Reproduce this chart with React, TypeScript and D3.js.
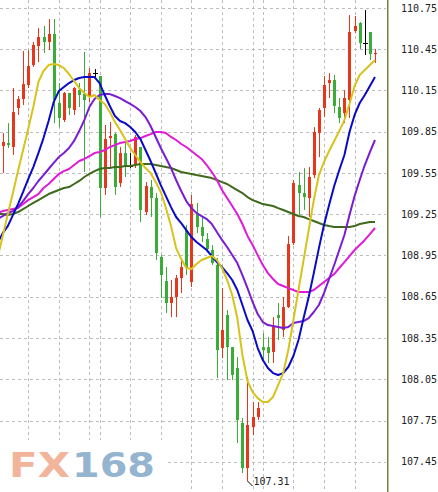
import React from 'react';
import * as d3 from 'd3';

const W = 438;
const H = 492;

const opens = [
  109.746, 109.768, 109.739, 110.023, 110.088, 110.190, 110.335, 110.473, 110.539, 110.503,
  110.561, 110.059, 109.935, 110.132, 110.008, 110.153, 110.124, 110.103, 110.277, 110.255,
  109.441, 109.804, 109.833, 109.477, 109.695, 109.601, 109.608, 109.739, 109.266, 109.448,
  109.368, 108.939, 108.764, 108.604, 108.648, 108.786, 109.135, 108.757, 109.259, 109.157,
  109.070, 108.990, 108.881, 108.277, 108.517, 108.284, 108.132, 107.732, 107.404, 107.702,
  107.775, 108.284, 108.284, 108.248, 108.517, 108.408, 108.575, 109.041, 109.463, 109.404,
  109.368, 109.535, 109.841, 110.023, 110.204, 110.226, 110.030, 109.986, 110.081, 110.583,
  110.641, 110.495, 110.575, 110.415,
];
const highs = [
  109.841, 109.913, 110.168, 110.110, 110.437, 110.444, 110.503, 110.604, 110.619, 110.670,
  110.670, 110.204, 110.139, 110.132, 110.175, 110.204, 110.430, 110.313, 110.306, 110.255,
  109.899, 109.921, 109.841, 109.739, 109.768, 109.695, 109.826, 109.739, 109.484, 109.499,
  109.404, 108.953, 108.866, 108.772, 108.808, 108.932, 109.172, 109.390, 109.332, 109.230,
  109.113, 109.026, 108.932, 108.713, 108.553, 108.284, 108.212, 107.768, 108.066, 107.884,
  107.884, 108.386, 108.357, 108.502, 108.604, 108.648, 109.092, 109.499, 109.557, 109.586,
  109.593, 109.884, 110.023, 110.255, 110.277, 110.263, 110.095, 110.153, 110.699, 110.692,
  110.648, 110.735, 110.575, 110.452,
];
const lows = [
  109.550, 109.732, 109.681, 109.972, 110.044, 110.168, 110.321, 110.357, 110.423, 110.444,
  109.913, 109.884, 109.921, 109.972, 109.972, 110.030, 109.557, 110.066, 110.241, 109.230,
  109.390, 109.593, 109.390, 109.448, 109.521, 109.586, 109.586, 109.193, 109.244, 109.230,
  108.917, 108.641, 108.532, 108.502, 108.502, 108.677, 108.808, 108.721, 109.113, 109.048,
  108.990, 108.881, 108.059, 108.204, 108.044, 108.044, 107.586, 107.368, 107.310, 107.644,
  107.753, 108.190, 108.168, 108.168, 108.335, 108.357, 108.568, 109.026, 109.244, 109.281,
  109.230, 109.513, 109.666, 109.957, 110.095, 109.986, 109.913, 109.913, 109.950, 110.568,
  110.452, 110.408, 110.372, 110.350,
];
const closes = [
  109.775, 109.753, 109.993, 110.088, 110.197, 110.328, 110.481, 110.539, 110.503, 110.561,
  110.081, 109.950, 110.132, 110.023, 110.168, 110.117, 110.081, 110.277, 110.277, 109.441,
  109.797, 109.819, 109.448, 109.695, 109.608, 109.601, 109.812, 109.281, 109.455, 109.368,
  108.968, 108.808, 108.604, 108.648, 108.786, 108.866, 108.859, 109.324, 109.157, 109.092,
  108.997, 108.895, 108.262, 108.408, 108.284, 108.081, 107.753, 107.404, 107.717, 107.775,
  107.841, 108.262, 108.241, 108.430, 108.495, 108.575, 109.033, 109.477, 109.404, 109.375,
  109.521, 109.848, 110.008, 110.190, 110.226, 110.037, 109.950, 110.095, 110.575, 110.619,
  110.495, 110.495, 110.415, 110.423,
];

// Moving averages: first value belongs to the bar just left of the visible window (bar -1)
const maYellow = [
  108.932,
  109.092, 109.252, 109.404, 109.564, 109.717, 109.870, 110.030, 110.212, 110.292, 110.335,
  110.343, 110.335, 110.313, 110.270, 110.219, 110.168, 110.132, 110.103, 110.117, 110.081,
  110.052, 109.994, 109.921, 109.863, 109.797, 109.732, 109.681, 109.630, 109.586, 109.550,
  109.484, 109.412, 109.295, 109.164, 109.004, 108.924, 108.859, 108.852, 108.888, 108.917,
  108.932, 108.946, 108.917, 108.859, 108.772, 108.663, 108.495, 108.226, 108.037, 107.957,
  107.913, 107.884, 107.884, 107.921, 108.008, 108.095, 108.263, 108.481, 108.699, 108.917,
  109.135, 109.353, 109.535, 109.630, 109.710, 109.783, 109.855, 109.935, 110.052, 110.183,
  110.263, 110.299, 110.335, 110.372,
];
const maBlue = [
  109.040,
  109.113, 109.164, 109.244, 109.324, 109.412, 109.506, 109.593, 109.695, 109.804, 109.928,
  110.066, 110.146, 110.175, 110.204, 110.226, 110.241, 110.248, 110.248, 110.248, 110.204,
  110.117, 110.037, 109.964, 109.928, 109.913, 109.884, 109.848, 109.797, 109.717, 109.637,
  109.550, 109.462, 109.382, 109.302, 109.230, 109.186, 109.135, 109.084, 109.048, 109.019,
  108.990, 108.946, 108.902, 108.866, 108.822, 108.772, 108.699, 108.590, 108.481, 108.401,
  108.277, 108.190, 108.132, 108.095, 108.081, 108.095, 108.139, 108.219, 108.335, 108.495,
  108.648, 108.822, 109.004, 109.172, 109.317, 109.455, 109.572, 109.681, 109.848, 109.972,
  110.059, 110.117, 110.183, 110.248,
];
const maPurple = [
  109.215,
  109.237, 109.259, 109.273, 109.302, 109.346, 109.397, 109.441, 109.492, 109.535, 109.579,
  109.623, 109.666, 109.695, 109.732, 109.783, 109.855, 109.935, 110.030, 110.088, 110.117,
  110.124, 110.124, 110.110, 110.095, 110.073, 110.052, 110.030, 110.001, 109.957, 109.892,
  109.812, 109.732, 109.659, 109.586, 109.499, 109.419, 109.346, 109.295, 109.259, 109.237,
  109.215, 109.179, 109.121, 109.063, 109.012, 108.953, 108.895, 108.808, 108.713, 108.612,
  108.524, 108.466, 108.444, 108.437, 108.430, 108.422, 108.430, 108.459, 108.466, 108.473,
  108.495, 108.539, 108.590, 108.677, 108.779, 108.881, 108.990, 109.099, 109.244, 109.382,
  109.499, 109.608, 109.702, 109.790,
];
const maMagenta = [
  109.259,
  109.273, 109.281, 109.288, 109.295, 109.324, 109.353, 109.375, 109.397, 109.441, 109.470,
  109.506, 109.543, 109.564, 109.579, 109.608, 109.637, 109.652, 109.673, 109.695, 109.702,
  109.717, 109.739, 109.753, 109.768, 109.775, 109.783, 109.797, 109.804, 109.819, 109.833,
  109.848, 109.848, 109.841, 109.812, 109.790, 109.761, 109.739, 109.710, 109.681, 109.652,
  109.608, 109.557, 109.499, 109.426, 109.368, 109.310, 109.252, 109.179, 109.092, 109.026,
  108.953, 108.881, 108.822, 108.779, 108.743, 108.728, 108.713, 108.699, 108.684, 108.684,
  108.684, 108.699, 108.728, 108.757, 108.786, 108.815, 108.859, 108.902, 108.946, 108.990,
  109.026, 109.063, 109.106, 109.150,
];
const maDarkGreen = [
  109.252,
  109.252, 109.244, 109.252, 109.266, 109.288, 109.310, 109.332, 109.353, 109.375, 109.397,
  109.412, 109.426, 109.441, 109.448, 109.470, 109.492, 109.521, 109.543, 109.564, 109.579,
  109.586, 109.586, 109.593, 109.593, 109.601, 109.601, 109.608, 109.615, 109.615, 109.615,
  109.608, 109.601, 109.593, 109.586, 109.572, 109.557, 109.550, 109.543, 109.535, 109.528,
  109.521, 109.513, 109.499, 109.484, 109.470, 109.448, 109.426, 109.404, 109.375, 109.353,
  109.339, 109.324, 109.317, 109.310, 109.295, 109.281, 109.266, 109.252, 109.237, 109.230,
  109.215, 109.201, 109.186, 109.172, 109.164, 109.157, 109.157, 109.157, 109.157, 109.164,
  109.179, 109.186, 109.193, 109.193,
];

const yTicks = [110.75, 110.45, 110.15, 109.85, 109.55, 109.25, 108.95, 108.65, 108.35, 108.05, 107.75, 107.45];
const gridBars = [5, 11, 17, 19, 25, 31, 37, 43, 49, 51, 57, 63, 69];

const maSeries = [
  { name: 'ma-darkgreen', values: maDarkGreen, color: '#3f6a1c' },
  { name: 'ma-magenta', values: maMagenta, color: '#e01ad8' },
  { name: 'ma-purple', values: maPurple, color: '#7a1cd4' },
  { name: 'ma-blue', values: maBlue, color: '#0a0ac8' },
  { name: 'ma-yellow', values: maYellow, color: '#d8c21c' },
];

const RED = '#e8361c';
const GREEN = '#3aac38';

export default function App() {
  const n = opens.length;
  const x = d3.scaleLinear().domain([0, n - 1]).range([2.7, 375]);
  const y = d3.scaleLinear().domain([107.45, 110.75]).range([461.75, 8]);
  const plotRight = 386;

  // MA arrays start at bar -1
  const line = d3
    .line<number>()
    .x((_, i) => x(i - 1))
    .y((v) => y(v));

  let lowIdx = 0;
  lows.forEach((v, i) => {
    if (v < lows[lowIdx]) lowIdx = i;
  });
  const lowX = Math.round(x(lowIdx)) + 0.5;
  const lowY = y(lows[lowIdx]);

  return (
    <svg
      width={W}
      height={H}
      style={{ position: 'absolute', left: 0, top: 0, background: '#fff' }}
    >
      <defs>
        <clipPath id="plot-clip">
          <rect x={0} y={0} width={plotRight} height={H} />
        </clipPath>
      </defs>
      <rect x={0} y={0} width={W} height={H} fill="#fff" />
      {/* horizontal grid */}
      {yTicks.map((t) => {
        const yy = Math.round(y(t)) + 0.5;
        return (
          <line key={'h' + t} x1={0} x2={plotRight} y1={yy} y2={yy} stroke="#bdbdbd" strokeDasharray="3,3" />
        );
      })}
      {/* vertical grid */}
      {gridBars.map((b) => {
        const xx = Math.round(x(b)) + 0.5;
        return <line key={'v' + b} x1={xx} x2={xx} y1={0} y2={H} stroke="#bdbdbd" strokeDasharray="3,3" />;
      })}
      {/* candles */}
      {opens.map((o, i) => {
        const c = closes[i];
        const cx = Math.round(x(i));
        const col = c > o ? RED : c < o ? GREEN : '#000';
        const yTop = y(Math.max(o, c));
        const yBot = y(Math.min(o, c));
        return (
          <g key={'c' + i}>
            <line x1={cx + 0.5} x2={cx + 0.5} y1={y(highs[i])} y2={y(lows[i])} stroke={col} strokeWidth={1} />
            {c === o ? (
              <line x1={cx - 2} x2={cx + 3} y1={Math.round(yTop) + 0.5} y2={Math.round(yTop) + 0.5} stroke="#000" />
            ) : (
              <rect x={cx - 1} y={yTop} width={3} height={Math.max(1, yBot - yTop)} fill={col} />
            )}
          </g>
        );
      })}
      {/* moving averages */}
      <g clipPath="url(#plot-clip)">
        {maSeries.map((s) => (
          <path key={s.name} d={line(s.values) || ''} fill="none" stroke={s.color} strokeWidth={2} strokeLinejoin="round" />
        ))}
      </g>
      {/* low annotation */}
      <line x1={lowX} y1={lowY} x2={lowX + 5} y2={lowY + 5} stroke="#000" strokeWidth={1} />
      <text
        x={lowX + 6}
        y={lowY + 1}
        fontFamily="DejaVu Sans Mono, monospace"
        fontSize={10}
        fill="#222"
        dominantBaseline="middle"
      >
        {lows[lowIdx].toFixed(2)}
      </text>
      {/* right axis */}
      <line x1={387.5} x2={387.5} y1={0} y2={H} stroke="#6f8436" strokeWidth={1} />
      <line x1={388.5} x2={388.5} y1={0} y2={H} stroke="#b9c296" strokeWidth={1} />
      {yTicks.map((t) => (
        <text
          key={'l' + t}
          x={401}
          y={y(t) + 0.5}
          fontFamily="DejaVu Sans Mono, monospace"
          fontSize={10}
          fill="#222"
          dominantBaseline="middle"
        >
          {t.toFixed(2)}
        </text>
      ))}
      {/* logo */}
      <rect x={0} y={440} width={168} height={52} fill="#fff" />
      <text
        x={9}
        y={477}
        fontFamily="DejaVu Sans, sans-serif"
        fontWeight="bold"
        fontSize={34}
        fill="#f3b49c"
        textLength={61}
        lengthAdjust="spacingAndGlyphs"
      >
        FX
      </text>
      <text
        x={72}
        y={477}
        fontFamily="DejaVu Sans, sans-serif"
        fontWeight="bold"
        fontSize={34}
        fill="#94b4cf"
        textLength={83}
        lengthAdjust="spacingAndGlyphs"
      >
        168
      </text>
    </svg>
  );
}
